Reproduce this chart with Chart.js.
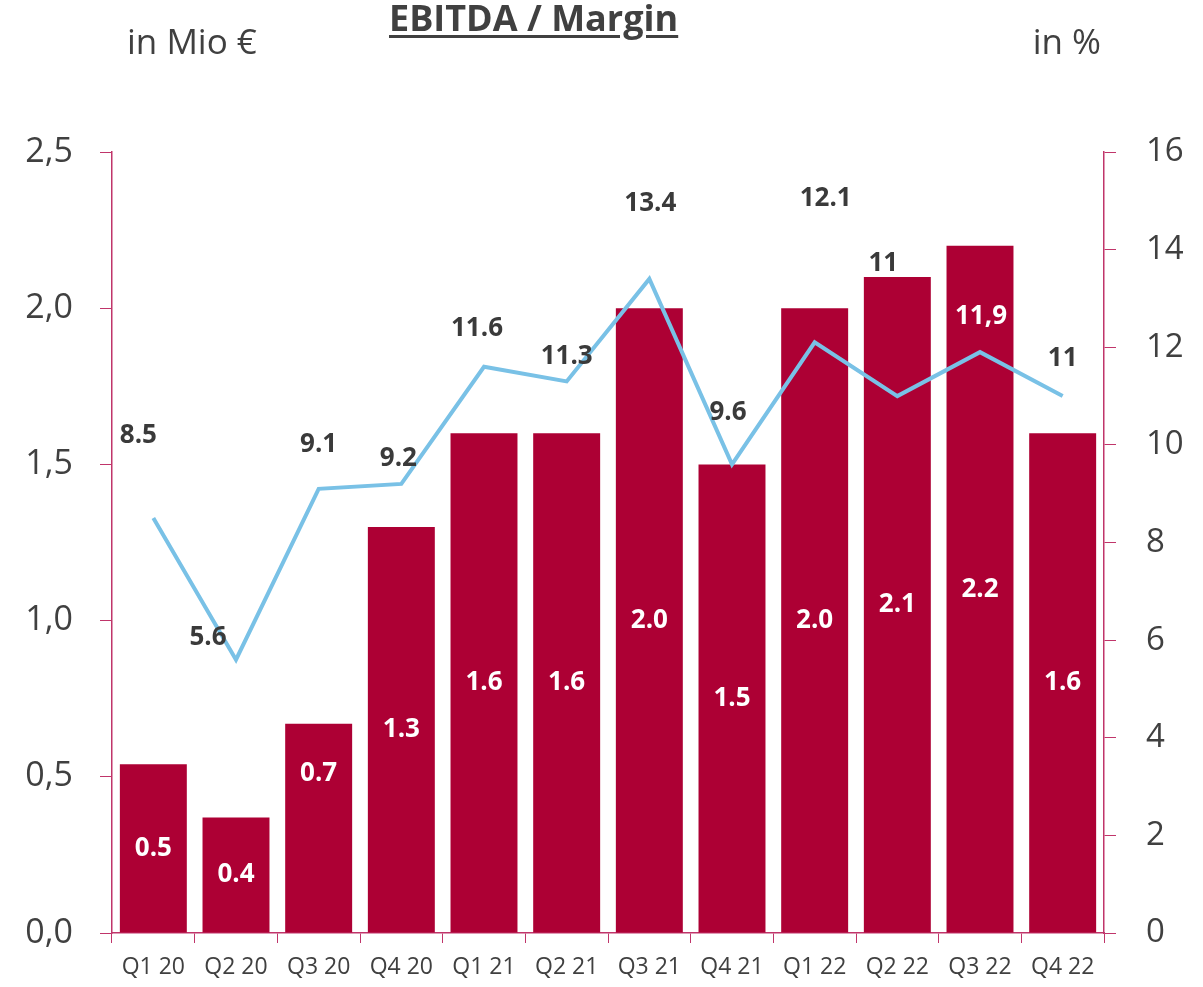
<!DOCTYPE html>
<html>
<head>
<meta charset="utf-8">
<script src="https://cdn.jsdelivr.net/npm/chart.js@4/dist/chart.umd.min.js"></script>
<style>
  body { margin: 0; background: #fff; font-family: "Open Sans", sans-serif; }
  #wrap { position: relative; width: 1203px; height: 987px; }
  .txt { position: absolute; color: #404040; white-space: nowrap; line-height: 1; }
  #title { left: 389px; top: 0px; font-size: 36px; font-weight: 700; text-decoration: underline; text-underline-offset: 4px; }
  #unitL { left: 127px; top: 23px; font-size: 35px; }
  #unitR { right: 102px; top: 23px; font-size: 35px; }
</style>
</head>
<body>
<div id="wrap">
  <canvas id="chart" width="1203" height="987"></canvas>
  <div class="txt" id="title">EBITDA / Margin</div>
  <div class="txt" id="unitL">in Mio €</div>
  <div class="txt" id="unitR">in %</div>
</div>
<script>
// categorias do eixo x
const quarters = ['Q1 20', 'Q2 20', 'Q3 20', 'Q4 20', 'Q1 21', 'Q2 21', 'Q3 21', 'Q4 21', 'Q1 22', 'Q2 22', 'Q3 22', 'Q4 22'];

// EBITDA em Mio € (barras)
const ebitda = [0.54, 0.37, 0.67, 1.30, 1.60, 1.60, 2.00, 1.50, 2.00, 2.10, 2.20, 1.60];
const ebitdaLabels = ['0.5', '0.4', '0.7', '1.3', '1.6', '1.6', '2.0', '1.5', '2.0', '2.1', '2.2', '1.6'];

// Margem em % (linha)
const margin = [8.5, 5.6, 9.1, 9.2, 11.6, 11.3, 13.4, 9.6, 12.1, 11.0, 11.9, 11.0];
const marginLabels = ['8.5', '5.6', '9.1', '9.2', '11.6', '11.3', '13.4', '9.6', '12.1', '11', '11,9', '11'];

// deslocamento dos rótulos (px)
const barLabelShift = [0, 0, -55, 0, 0, 0, 0, 0, 0, 0, 0, 0];
const lineLabelShift = [[-15, -83], [-28, -22], [0, -44], [-3, -25], [-7, -38], [0, -25],
  [1, -75], [-4, -52], [11, -144], [-14, -132], [1, -36], [0, -37]];
const lineLabelColor = ['#3a3a3a', '#3a3a3a', '#3a3a3a', '#3a3a3a', '#3a3a3a', '#3a3a3a',
  '#3a3a3a', '#3a3a3a', '#3a3a3a', '#3a3a3a', '#ffffff', '#3a3a3a'];

const axisColor = '#C0356A';
const textColor = '#404040';

// plugin para escrever os valores
const valueLabels = {
  id: 'valueLabels',
  afterDatasetsDraw(chart) {
    const ctx = chart.ctx;
    const lineMeta = chart.getDatasetMeta(0);
    const barMeta = chart.getDatasetMeta(1);
    ctx.save();
    ctx.textAlign = 'center';
    ctx.textBaseline = 'middle';
    ctx.font = 'bold 26px "Open Sans"';
    barMeta.data.forEach((bar, i) => {
      ctx.fillStyle = '#ffffff';
      const y = (bar.y + bar.base) / 2 + barLabelShift[i];
      ctx.fillText(ebitdaLabels[i], bar.x, y);
    });
    lineMeta.data.forEach((pt, i) => {
      ctx.fillStyle = lineLabelColor[i];
      ctx.fillText(marginLabels[i], pt.x + lineLabelShift[i][0], pt.y + lineLabelShift[i][1]);
    });
    ctx.restore();
  }
};

new Chart(document.getElementById('chart'), {
  data: {
    labels: quarters,
    datasets: [
      {
        type: 'line',
        data: margin,
        yAxisID: 'y1',
        borderColor: '#79C1E6',
        borderWidth: 4,
        pointRadius: 0,
        tension: 0,
        order: 0
      },
      {
        type: 'bar',
        data: ebitda,
        yAxisID: 'y',
        backgroundColor: '#AD0034',
        categoryPercentage: 1,
        barPercentage: 0.81,
        order: 1
      }
    ]
  },
  options: {
    responsive: false,
    animation: false,
    layout: { padding: { top: 152, left: 0, right: 0, bottom: 0 } },
    plugins: { legend: { display: false }, tooltip: { enabled: false } },
    scales: {
      x: {
        offset: true,
        grid: { offset: true, drawOnChartArea: false, color: axisColor, tickLength: 10 },
        border: { color: axisColor, width: 1.5 },
        ticks: { color: textColor, font: { family: 'Open Sans', size: 23 }, padding: 11, maxRotation: 0 },
        afterFit(s) { s.height = 54; }
      },
      y: {
        position: 'left',
        min: 0, max: 2.5,
        grid: { drawOnChartArea: false, color: axisColor, tickLength: 12 },
        border: { color: axisColor, width: 1.5 },
        ticks: {
          stepSize: 0.5, color: textColor, padding: 27,
          font: { family: 'Open Sans', size: 34 },
          callback: v => v.toFixed(1).replace('.', ',')
        },
        afterFit(s) { s.width = 112; }
      },
      y1: {
        position: 'right',
        min: 0, max: 16,
        grid: { drawOnChartArea: false, color: axisColor, tickLength: 12 },
        border: { color: axisColor, width: 1.5 },
        ticks: { stepSize: 2, color: textColor, padding: 30, font: { family: 'Open Sans', size: 33 } },
        afterFit(s) { s.width = 99; }
      }
    }
  },
  plugins: [valueLabels]
});
</script>
</body>
</html>
